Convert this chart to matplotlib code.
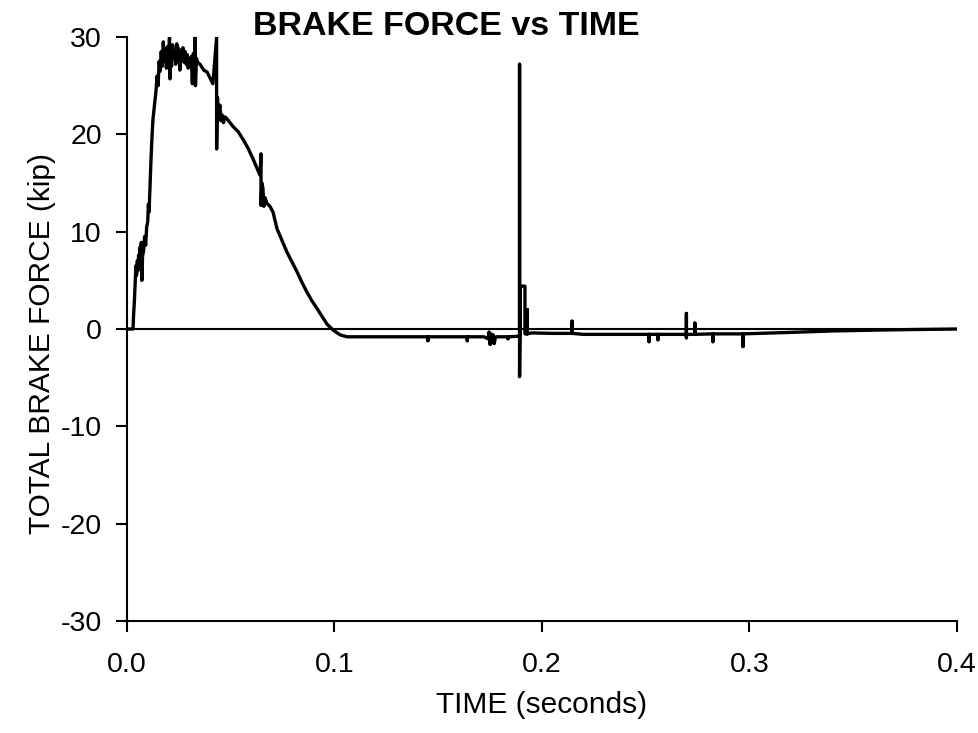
import matplotlib
matplotlib.use("Agg")
import matplotlib.pyplot as plt

plt.rcParams['font.family'] = ['Liberation Sans', 'DejaVu Sans']
plt.rcParams['axes.unicode_minus'] = False

# brake force record (time in s, force in kip)
time_s = [
    0.0000, 0.0029, 0.0032, 0.0036, 0.0040, 0.0043, 0.0046, 0.0050, 0.0053,
    0.0056, 0.0060, 0.0063, 0.0066, 0.0069, 0.0072, 0.0075, 0.0080, 0.0085,
    0.0090, 0.0095, 0.0100, 0.0103, 0.0106, 0.0110, 0.0115, 0.0120, 0.0125,
    0.0130, 0.0135, 0.0140, 0.0145, 0.0150, 0.0155, 0.0160, 0.0165, 0.0170,
    0.0175, 0.0180, 0.0185, 0.0190, 0.0195, 0.0200, 0.0205, 0.0207, 0.0210,
    0.0215, 0.0220, 0.0225, 0.0230, 0.0235, 0.0240, 0.0245, 0.0250, 0.0255,
    0.0260, 0.0265, 0.0270, 0.0275, 0.0280, 0.0285, 0.0290, 0.0295, 0.0300,
    0.0305, 0.0310, 0.0315, 0.0320, 0.0325, 0.0328, 0.0330, 0.0335, 0.0340,
    0.0352, 0.0370, 0.0386, 0.0400, 0.0414, 0.0432, 0.0432, 0.0436, 0.0440,
    0.0448, 0.0453, 0.0458, 0.0465, 0.0472, 0.0482, 0.0511, 0.0535, 0.0559,
    0.0583, 0.0607, 0.0625, 0.0641, 0.0646, 0.0646, 0.0650, 0.0655, 0.0660,
    0.0665, 0.0675, 0.0689, 0.0704, 0.0723, 0.0747, 0.0771, 0.0795, 0.0819,
    0.0843, 0.0867, 0.0891, 0.0916, 0.0940, 0.0964, 0.0993, 0.1027, 0.1060,
    0.1200, 0.1400, 0.1450, 0.1450, 0.1450, 0.1600, 0.1640, 0.1640, 0.1640,
    0.1720, 0.1740, 0.1745, 0.1750, 0.1755, 0.1760, 0.1765, 0.1770, 0.1775,
    0.1780, 0.1800, 0.1836, 0.1836, 0.1836, 0.1880, 0.1892, 0.1892, 0.1892,
    0.1894, 0.1894, 0.1918, 0.1918, 0.1923, 0.1929, 0.1929, 0.1929, 0.1950,
    0.2050, 0.2145, 0.2145, 0.2145, 0.2200, 0.2400, 0.2516, 0.2516, 0.2516,
    0.2559, 0.2559, 0.2559, 0.2650, 0.2696, 0.2696, 0.2696, 0.2696, 0.2737,
    0.2737, 0.2737, 0.2824, 0.2824, 0.2824, 0.2969, 0.2969, 0.2969, 0.3050,
    0.3195, 0.3400, 0.3640, 0.3800, 0.4000,
]
force_kip = [
    0.0, 0.0, 1.5, 3.0, 5.0, 6.5, 5.5, 7.0, 6.0,
    7.6, 6.8, 8.4, 7.0, 8.9, 5.0, 7.5, 8.0, 9.5,
    8.6, 10.5, 11.0, 12.8, 12.0, 14.0, 17.0, 19.5, 21.5,
    22.5, 23.5, 24.5, 26.0, 25.0, 27.5, 26.5, 28.5, 27.0,
    29.5, 27.5, 28.8, 26.8, 29.0, 27.5, 30.0, 25.7, 28.5,
    27.0, 29.2, 27.8, 28.6, 27.2, 29.3, 27.6, 28.8, 26.6,
    28.4, 27.5, 28.9, 27.4, 28.5, 27.2, 28.2, 26.8, 27.8,
    27.2, 28.0, 25.2, 28.3, 27.0, 30.0, 25.0, 27.8, 27.4,
    27.2, 26.6, 26.4, 25.8, 25.2, 30.0, 18.5, 23.8, 22.2,
    23.0, 21.4, 22.0, 21.2, 21.8, 21.6, 20.8, 20.3, 19.5,
    18.6, 17.5, 16.6, 15.8, 18.0, 12.7, 15.0, 14.5, 12.6,
    13.5, 12.9, 12.6, 12.0, 10.3, 9.1, 7.9, 6.9, 5.9,
    4.8, 3.8, 2.9, 2.1, 1.3, 0.5, -0.1, -0.6, -0.8,
    -0.8, -0.8, -0.8, -1.2, -0.8, -0.8, -0.8, -1.2, -0.8,
    -0.8, -1.0, -0.3, -1.6, -0.5, -1.4, -0.6, -1.5, -0.9,
    -0.8, -0.8, -0.8, -1.0, -0.8, -0.75, -0.75, 27.2, -4.9,
    -0.5, 4.4, 4.4, -0.5, -0.5, -0.5, 2.0, -0.5, -0.4,
    -0.45, -0.45, 0.8, -0.45, -0.55, -0.55, -0.55, -1.3, -0.55,
    -0.55, -1.1, -0.55, -0.55, -0.55, 1.6, -0.9, -0.55, -0.55,
    0.6, -0.55, -0.5, -1.3, -0.5, -0.5, -1.8, -0.5, -0.45,
    -0.35, -0.2, -0.1, -0.05, 0.0,
]

fig = plt.figure(figsize=(9.79, 7.33), dpi=100)
ax = fig.add_axes([0.1297, 0.1528, 0.8478, 0.7967])

ax.axhline(0, color='black', lw=1.5, zorder=1)
ax.plot(time_s, force_kip, color='black', lw=2.4, zorder=2)

ax.set_xlim(0, 0.4)
ax.set_ylim(-30, 30)
ax.set_xticks([0.0, 0.1, 0.2, 0.3, 0.4])
ax.set_xticklabels(['0.0', '0.1', '0.2', '0.3', '0.4'])
ax.set_yticks([-30, -20, -10, 0, 10, 20, 30])

for side in ['top', 'right']:
    ax.spines[side].set_visible(False)
for side in ['left', 'bottom']:
    ax.spines[side].set_linewidth(1.5)
ax.tick_params(axis='both', direction='out', length=8, width=1.5, labelsize=20.5)
ax.tick_params(axis='y', pad=10)
ax.tick_params(axis='x', pad=14)

ax.set_xlabel('TIME (seconds)', fontsize=21.5, labelpad=10)
ax.set_ylabel('TOTAL BRAKE FORCE (kip)', fontsize=21.5)
ax.yaxis.set_label_coords(-0.085, 0.476)

fig.text(446 / 979, 1 - 35 / 733, 'BRAKE FORCE vs TIME', fontsize=24.5,
         fontweight='bold', ha='center', va='baseline')

fig.savefig('out.png', dpi=100, facecolor='white')
